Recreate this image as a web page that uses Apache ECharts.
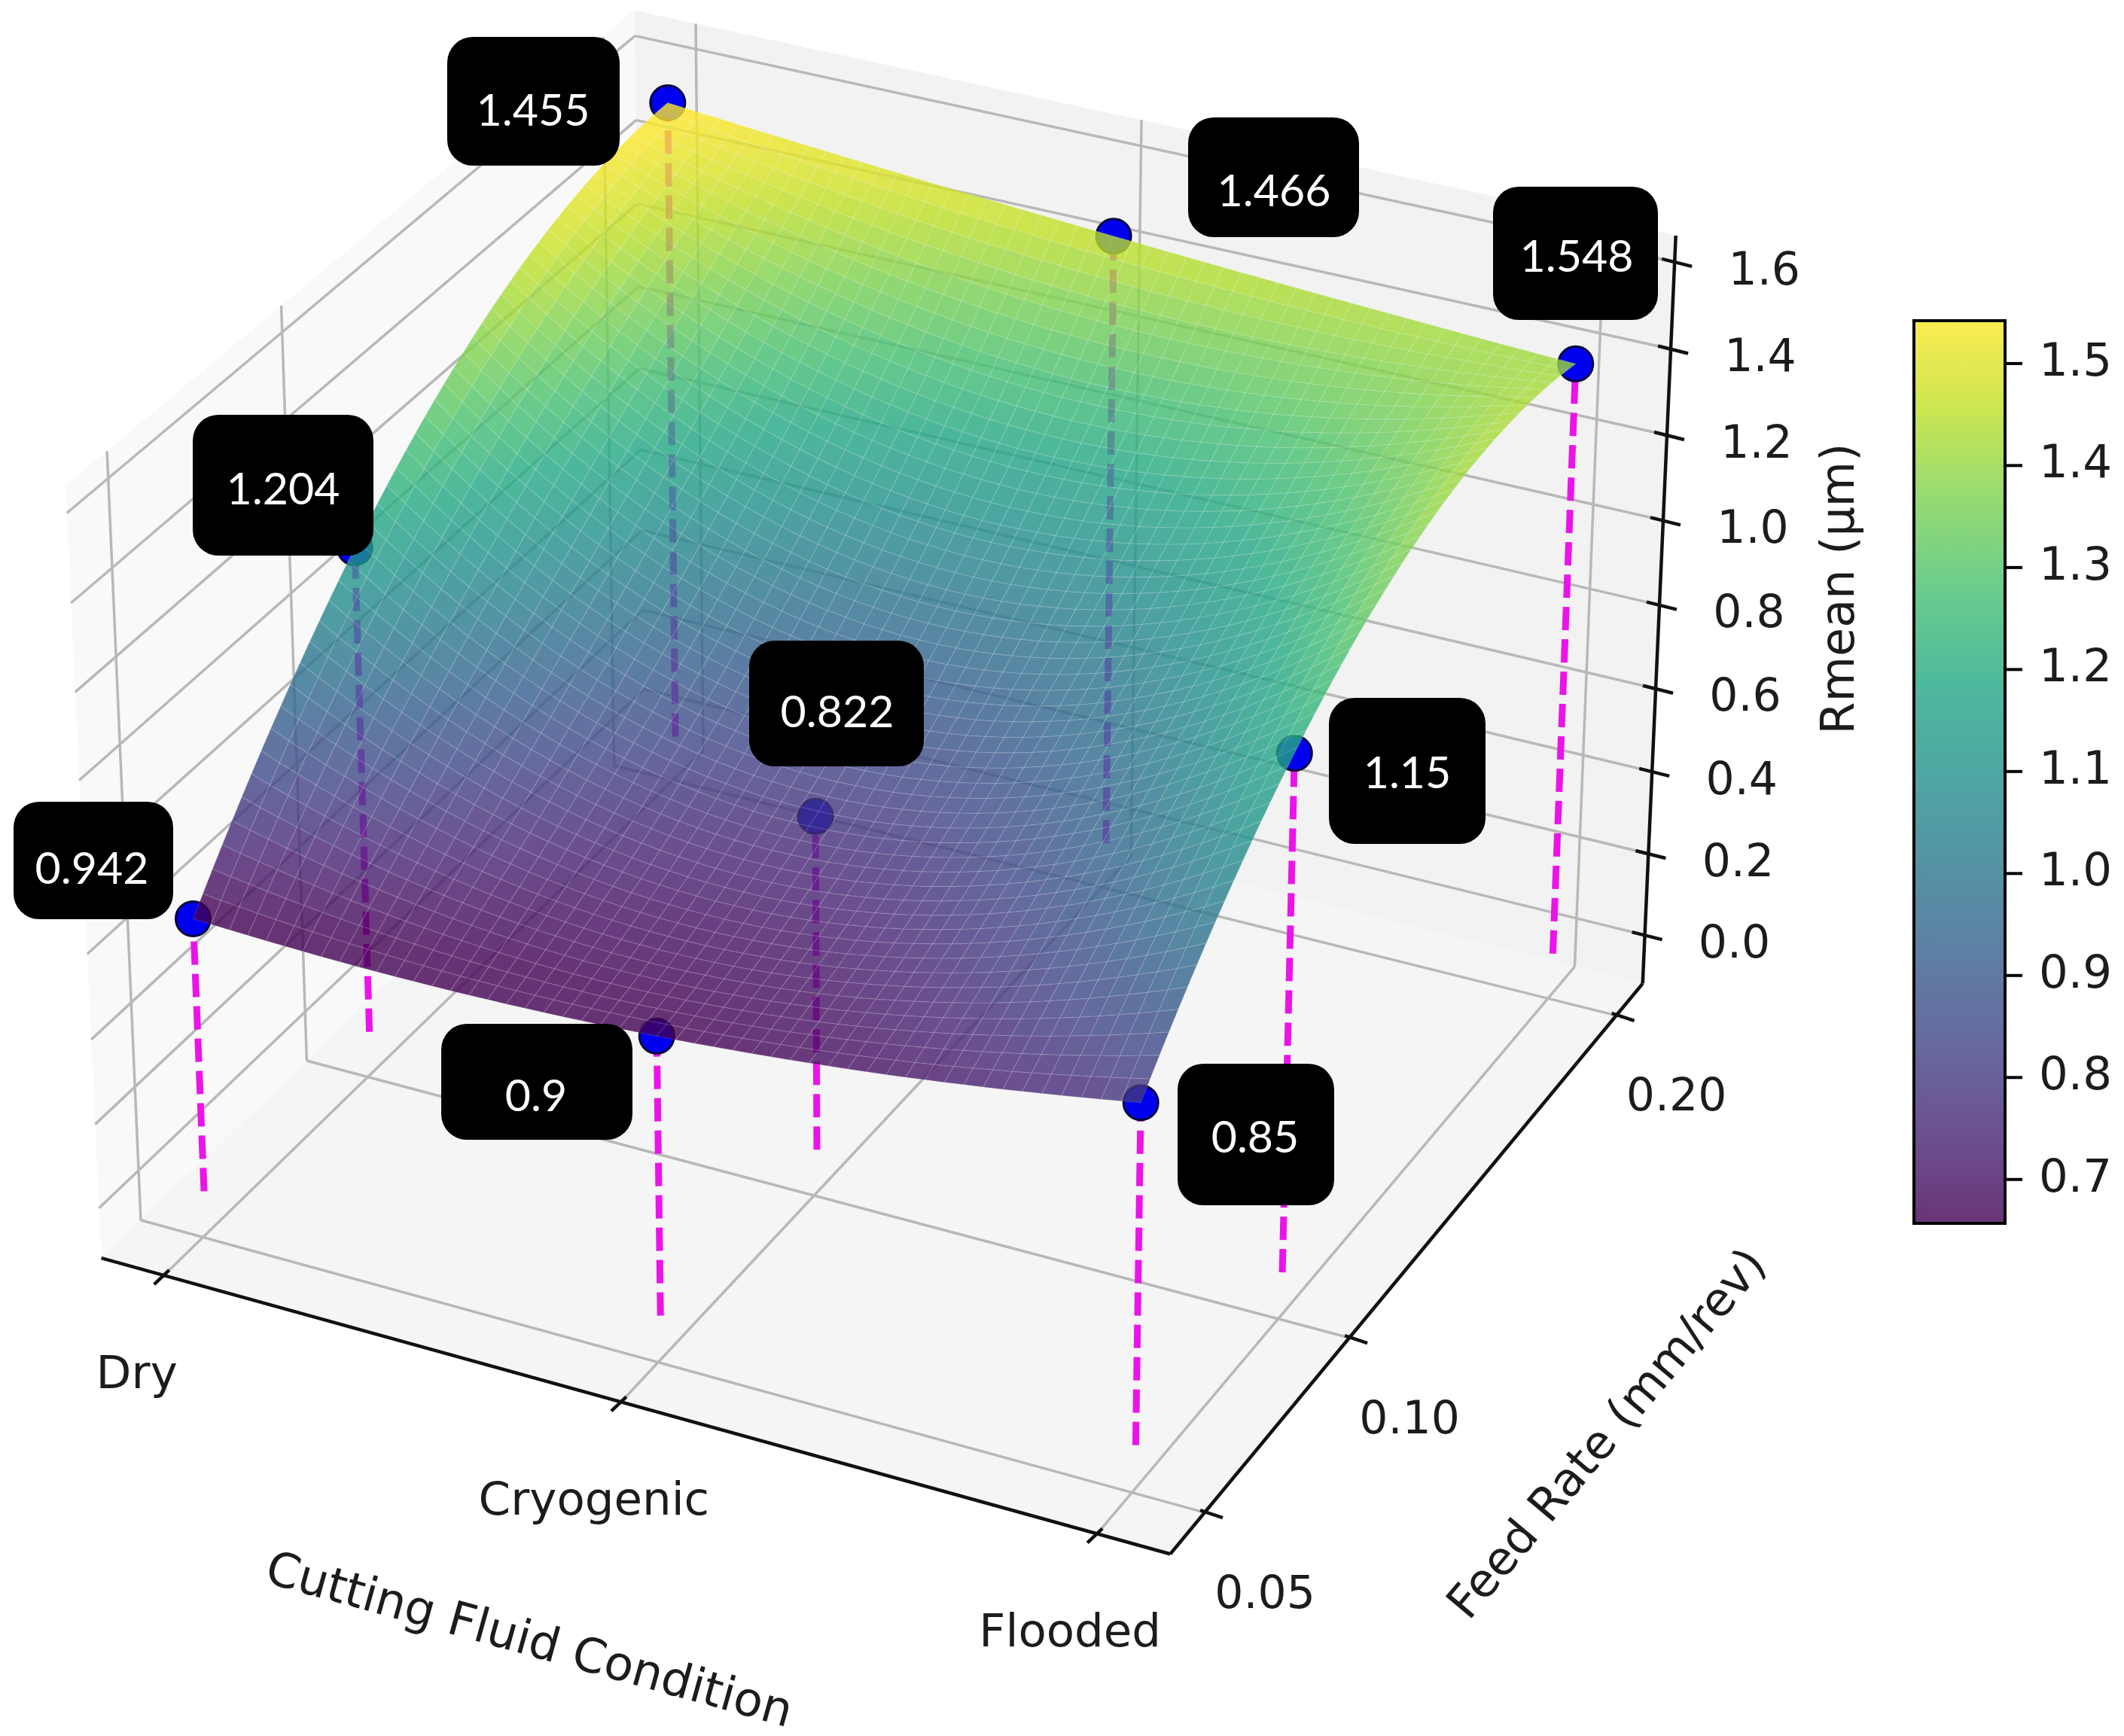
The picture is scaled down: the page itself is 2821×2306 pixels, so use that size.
<!DOCTYPE html>
<html><head><meta charset="utf-8">
<style>html,body{margin:0;padding:0;background:#fff}#c{width:2821px;height:2306px}</style>
<script src="https://cdn.jsdelivr.net/npm/echarts@6/dist/echarts.min.js"></script>
</head><body><div id="c"></div>
<script>
// ---------- chart values ----------
const categories = ['Dry', 'Cryogenic', 'Flooded'];
const categoryPositions = [0, 1, 2];
const feedRates = [0.05, 0.10, 0.20];
const feedTickLabels = ['0.05', '0.10', '0.20'];
const heightsAtFeed005 = [0.644, 0.652, 0.786];
const heightsAtFeed010 = [1.15, 0.789, 1.20];
const heightsAtFeed020 = [1.546, 1.464, 1.406];
const zTicks = [0, 0.2, 0.4, 0.6, 0.8, 1.0, 1.2, 1.4, 1.6];
const colorbarTicks = [0.7, 0.8, 0.9, 1.0, 1.1, 1.2, 1.3, 1.4, 1.5];
const colorMin = 0.657, colorMax = 1.542;
const annotationTexts = ['1.455', '1.466', '1.548', '1.204', '0.822', '1.15', '0.942', '0.9', '0.85'];
const xLimits = [-0.14, 2.15], yLimits = [0.0385, 0.2105], zLimits = [-0.12, 1.66];

// ---------- layout ----------
const W = 2821, H = 2306;
const TXT = '#1c1c1c', FONT = '"DejaVu Sans"';
const annotationBoxes = [ // left, right, top, bottom, text centre x, y
  [594, 823, 49, 220, 708, 148], [1578, 1805, 156, 315, 1692, 255], [1983, 2202, 248, 425, 2094, 342],
  [256, 496, 551, 738, 376, 651], [995, 1227, 851, 1018, 1112, 947], [1765, 1973, 927, 1121, 1869, 1028],
  [18, 230, 1065, 1221, 122, 1155], [586, 840, 1360, 1514, 712, 1457], [1564, 1772, 1413, 1601, 1667, 1512]
];
const heightRows = [heightsAtFeed005, heightsAtFeed010, heightsAtFeed020];

// calibration of the view: axis-box landmarks -> page pixels
const [x0, x1] = xLimits, [y0, y1] = yLimits, [z0, z1] = zLimits;
const viewLandmarks = [
  [x0, y0, z0, 134, 1669], [x1, y0, z0, 1556, 2062], [x1, y1, z0, 2185, 1304], [x0, y1, z0, 858, 975],
  [x0, y0, z1, 90, 640], [x1, y1, z1, 2227, 312], [x0, y1, z1, 842, 15],
  [0, y0, z0, 220, 1696], [1, y0, z0, 826, 1865], [2, y0, z0, 1456, 2040],
  [x1, 0.05, z0, 1594, 2008], [x1, 0.10, z0, 1793, 1777], [x1, 0.20, z0, 2149, 1348],
  [x0, 0.05, z0, 185, 1623], [x0, 0.10, z0, 408, 1411],
  [x1, y1, 1.6, 2227, 347], [x1, y1, 1.4, 2220, 463], [x1, y1, 1.2, 2214, 579], [x1, y1, 1.0, 2208, 694],
  [x1, y1, 0.8, 2202, 806], [x1, y1, 0.6, 2198, 917], [x1, y1, 0.4, 2193, 1025], [x1, y1, 0.2, 2189, 1133],
  [x1, y1, 0.0, 2183, 1240], [x0, y1, 1.6, 842, 51], [x0, y1, 1.4, 842, 158]
];
const nx = v => (v - x0) / (x1 - x0), ny = v => (v - y0) / (y1 - y0), nz = v => (v - z0) / (z1 - z0);
function solveView() {
  const n = 11, A = Array.from({length: n}, () => new Array(n + 1).fill(0));
  const add = (r, b) => { for (let i = 0; i < n; i++) { for (let j = 0; j < n; j++) A[i][j] += r[i] * r[j]; A[i][n] += r[i] * b; } };
  viewLandmarks.forEach(([x, y, z, u, v]) => {
    const X = nx(x), Y = ny(y), Z = nz(z), U = u / 1000, V = v / 1000;
    add([X, Y, Z, 1, 0, 0, 0, 0, -U * X, -U * Y, -U * Z], U);
    add([0, 0, 0, 0, X, Y, Z, 1, -V * X, -V * Y, -V * Z], V);
  });
  for (let c = 0; c < n; c++) {
    let p = c; for (let r = c + 1; r < n; r++) if (Math.abs(A[r][c]) > Math.abs(A[p][c])) p = r;
    [A[c], A[p]] = [A[p], A[c]];
    for (let r = 0; r < n; r++) if (r !== c) { const f = A[r][c] / A[c][c]; for (let k = c; k <= n; k++) A[r][k] -= f * A[c][k]; }
  }
  return A.map((row, i) => row[n] / row[i]);
}
const M = solveView();
function project(x, y, z) {
  const X = nx(x), Y = ny(y), Z = nz(z), w = M[8] * X + M[9] * Y + M[10] * Z + 1;
  return [1000 * (M[0] * X + M[1] * Y + M[2] * Z + M[3]) / w, 1000 * (M[4] * X + M[5] * Y + M[6] * Z + M[7]) / w];
}
// plotted marks sit a few pixels off the box landmarks in the reference
const markShift = [4, 5];
function projectMark(x, y, z) { const p = project(x, y, z); return [p[0] + markShift[0], p[1] + markShift[1]]; }

// viridis
const viridis = ['#440154', '#482475', '#414487', '#355f8d', '#2a788e', '#21918c', '#22a884', '#44bf70', '#7ad151', '#bddf26', '#fde725']
  .map(h => [parseInt(h.slice(1, 3), 16), parseInt(h.slice(3, 5), 16), parseInt(h.slice(5, 7), 16)]);
function colorOf(v) {
  const t = Math.max(0, Math.min(1, (v - colorMin) / (colorMax - colorMin))) * 10, i = Math.min(9, Math.floor(t)), f = t - i;
  const c = viridis[i].map((a, k) => Math.round(a + (viridis[i + 1][k] - a) * f));
  return `rgba(${c[0]},${c[1]},${c[2]},0.8)`;
}
// smooth surface through the nine read heights
function lagrange(xs, x, k) { let r = 1; xs.forEach((a, j) => { if (j !== k) r *= (x - a) / (xs[k] - a); }); return r; }
function surfaceHeight(x, y) {
  let s = 0;
  feedRates.forEach((fy, r) => categoryPositions.forEach((cx, c) => { s += heightRows[r][c] * lagrange(feedRates, y, r) * lagrange(categoryPositions, x, c); }));
  return s;
}
const CELLS = 50, cells = [];
for (let i = 0; i < CELLS; i++) for (let j = 0; j < CELLS; j++) cells.push([i, j]);
const gx = i => 2 * i / CELLS, gy = j => 0.05 + 0.15 * j / CELLS;

// helpers
const frameAxes = {coordinateSystem: 'cartesian2d', xAxisIndex: 0, yAxisIndex: 0, silent: true, animation: false, progressive: 0};
const seg = (a, b) => [project(...a), project(...b)];
const paneFaces = [
  {p: [[x0, y0, z0], [x0, y1, z0], [x0, y1, z1], [x0, y0, z1]], c: '#f9f9f9'},
  {p: [[x0, y1, z0], [x1, y1, z0], [x1, y1, z1], [x0, y1, z1]], c: '#f2f2f2'},
  {p: [[x0, y0, z0], [x1, y0, z0], [x1, y1, z0], [x0, y1, z0]], c: '#f5f5f5'}
];
const gridSegs = [];
categoryPositions.forEach(x => { gridSegs.push(seg([x, y0, z0], [x, y1, z0]), seg([x, y1, z0], [x, y1, z1])); });
feedRates.forEach(y => { gridSegs.push(seg([x0, y, z0], [x1, y, z0]), seg([x0, y, z0], [x0, y, z1])); });
zTicks.forEach(z => { gridSegs.push(seg([x0, y0, z], [x0, y1, z]), seg([x0, y1, z], [x1, y1, z])); });
const axisSegs = [seg([x0, y0, z0], [x1, y0, z0]), seg([x1, y0, z0], [x1, y1, z0]), seg([x1, y1, z0], [x1, y1, z1])];
const tickOff = (p, a, b) => [[p[0] + a[0], p[1] + a[1]], [p[0] + b[0], p[1] + b[1]]];
categoryPositions.forEach(x => axisSegs.push(tickOff(project(x, y0, z0), [-13, 12], [7, -7])));
feedRates.forEach(y => axisSegs.push(tickOff(project(x1, y, z0), [-6, -3], [24, 7])));
zTicks.forEach(z => axisSegs.push(tickOff(project(x1, y1, z), [-17, -4], [23, 6])));
const stems = [], points = [];
feedRates.forEach((fy, r) => categoryPositions.forEach((cx, c) => {
  const z = heightRows[r][c];
  stems.push([projectMark(cx, fy, 0), projectMark(cx, fy, z)]);
  points.push(projectMark(cx, fy, z));
}));
const tickTexts = [];
categoryPositions.forEach((x, i) => { const p = project(x, y0, z0); tickTexts.push([p[0] - 36, p[1] + 134, categories[i], 61]); });
feedRates.forEach((y, i) => { const p = project(x1, y, z0); tickTexts.push([p[0] + 80, p[1] + 111, feedTickLabels[i], 60]); });
zTicks.forEach(z => { const p = project(x1, y1, z); tickTexts.push([p[0] + 119, p[1] + 14, z.toFixed(1), 60]); });

function segSeries(list, z, style) {
  return Object.assign({type: 'custom', z, data: list.map((_, i) => [i]),
    renderItem: (params, api) => {
      const d = list[params.dataIndex];
      return {type: 'line', shape: {x1: api.coord(d[0])[0], y1: api.coord(d[0])[1], x2: api.coord(d[1])[0], y2: api.coord(d[1])[1]}, style};
    }}, frameAxes);
}

const chart = echarts.init(document.getElementById('c'), null, {renderer: 'canvas', width: W, height: H});
const barStops = viridis.map((c, i) => ({offset: i / 10, color: `rgba(${c[0]},${c[1]},${c[2]},0.8)`}));
const barAxes = {coordinateSystem: 'cartesian2d', xAxisIndex: 1, yAxisIndex: 1, silent: true, animation: false};

const option = {
  animation: false,
  backgroundColor: '#ffffff',
  grid: [
    {left: 0, top: 0, width: W, height: H},
    {left: 2542, top: 426, width: 121, height: 1199}
  ],
  xAxis: [
    {gridIndex: 0, type: 'value', min: 0, max: W, show: false},
    {gridIndex: 1, type: 'value', min: 0, max: 1, show: false}
  ],
  yAxis: [
    {gridIndex: 0, type: 'value', min: 0, max: H, inverse: true, show: false},
    {gridIndex: 1, type: 'value', min: colorMin, max: colorMax, position: 'right',
     axisLine: {show: false, onZero: false}, splitLine: {show: false}, axisTick: {show: false},
     axisLabel: {show: true, margin: 45, fontSize: 61, fontFamily: FONT, color: TXT, customValues: colorbarTicks, formatter: v => v.toFixed(1)}}
  ],
  series: [
    Object.assign({type: 'custom', z: 1, data: paneFaces.map((_, i) => [i]),
      renderItem: (params, api) => {
        const f = paneFaces[params.dataIndex];
        return {type: 'polygon', shape: {points: f.p.map(q => api.coord(project(...q)))}, style: {fill: f.c}};
      }}, frameAxes),
    segSeries(gridSegs, 2, {stroke: '#b8b8b8', lineWidth: 3.5}),
    segSeries(stems, 3, {stroke: '#ea14ea', lineWidth: 9, lineDash: [31, 12]}),
    {type: 'scatter', z: 4, xAxisIndex: 0, yAxisIndex: 0, silent: true, data: points, symbolSize: 46,
     itemStyle: {color: '#0000f0', borderColor: '#05053a', borderWidth: 3, opacity: 1}},
    Object.assign({type: 'custom', z: 5, data: cells,
      renderItem: (params, api) => {
        const [i, j] = cells[params.dataIndex];
        const c = [[gx(i), gy(j)], [gx(i + 1), gy(j)], [gx(i + 1), gy(j + 1)], [gx(i), gy(j + 1)]];
        const hs = c.map(q => surfaceHeight(q[0], q[1]));
        return {type: 'polygon', shape: {points: c.map((q, k) => api.coord(projectMark(q[0], q[1], hs[k])))},
          style: {fill: colorOf((hs[0] + hs[1] + hs[2] + hs[3]) / 4), stroke: 'rgba(255,255,255,0.1)', lineWidth: 1.5}};
      }}, frameAxes),
    segSeries(axisSegs, 6, {stroke: '#111', lineWidth: 4.5}),
    Object.assign({type: 'custom', z: 7, data: tickTexts.map((_, i) => [i]),
      renderItem: (params, api) => {
        const t = tickTexts[params.dataIndex], p = api.coord([t[0], t[1]]);
        return {type: 'text', style: {x: p[0], y: p[1], text: t[2], fill: TXT, font: `${t[3]}px ${FONT}`, align: 'center', verticalAlign: 'middle'}};
      }}, frameAxes),
    Object.assign({type: 'custom', z: 7, data: [[0, colorMin, 1, colorMax]],
      renderItem: (params, api) => {
        const a = api.coord([api.value(0), api.value(3)]), b = api.coord([api.value(2), api.value(1)]);
        return {type: 'rect', shape: {x: a[0], y: a[1], width: b[0] - a[0], height: b[1] - a[1]},
          style: {fill: new echarts.graphic.LinearGradient(0, 1, 0, 0, barStops), stroke: '#000', lineWidth: 4}};
      }}, barAxes),
    Object.assign({type: 'custom', z: 7, data: colorbarTicks.map(v => [1, v]),
      renderItem: (params, api) => {
        const p = api.coord([api.value(0), api.value(1)]);
        return {type: 'line', shape: {x1: p[0], y1: p[1], x2: p[0] + 23, y2: p[1]}, style: {stroke: '#000', lineWidth: 4}};
      }}, barAxes)
  ],
  graphic: {elements: [
    ...[['Cutting Fluid Condition', 702, 2182, -15.5 * Math.PI / 180, 63],
        ['Feed Rate (mm/rev)', 2137, 1907, 50 * Math.PI / 180, 62],
        ['Rmean (µm)', 2446, 782, Math.PI / 2, 62]].map(([t, x, y, r, s]) => ({
      type: 'text', x, y, rotation: r, z: 50, silent: true,
      style: {text: t, fill: TXT, font: `${s}px ${FONT}`, align: 'center', verticalAlign: 'middle'}})),
    ...annotationTexts.flatMap((t, i) => {
      const [l, rr, tp, bt, tx, ty] = annotationBoxes[i];
      return [
        {type: 'rect', z: 60, silent: true, shape: {x: l, y: tp, width: rr - l, height: bt - tp, r: 34}, style: {fill: '#000'}},
        {type: 'text', z: 61, silent: true, x: tx, y: ty,
         style: {text: t, fill: '#fff', font: '59px Lato', align: 'center', verticalAlign: 'middle'}}
      ];
    })
  ]}
};
chart.setOption(option);
</script></body></html>
